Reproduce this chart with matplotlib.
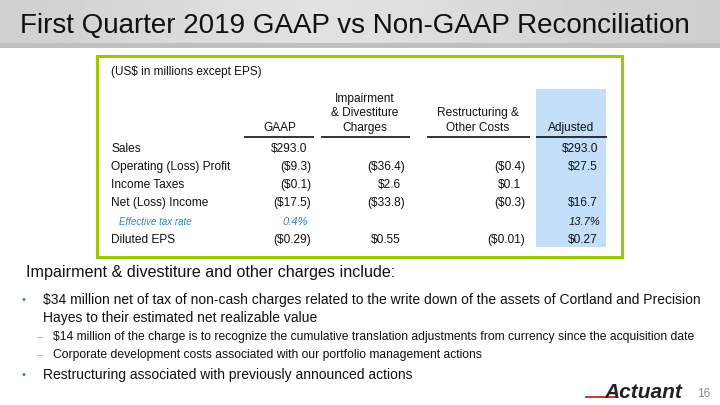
import matplotlib
matplotlib.use("Agg")

import numpy as np
import matplotlib.pyplot as plt
from matplotlib.patches import Rectangle

plt.rcParams["font.family"] = ["Liberation Sans", "DejaVu Sans"]
plt.rcParams["text.parse_math"] = False  # dollar signs are plain text here

# slide text
title = "First Quarter 2019 GAAP vs Non-GAAP Reconciliation"
units_note = "(US$ in millions except EPS)"

# table data
row_labels = ["Sales", "Operating (Loss) Profit", "Income Taxes",
              "Net (Loss) Income", "Effective tax rate", "Diluted EPS"]
col_headers = ["GAAP", "Impairment\n& Divestiture\nCharges",
               "Restructuring &\nOther Costs", "Adjusted"]
gaap = ["$293.0", "($9.3)", "($0.1)", "($17.5)", "0.4%", "($0.29)"]
impairment = ["", "($36.4)", "$2.6", "($33.8)", "", "$0.55"]
restructuring = ["", "($0.4)", "$0.1", "($0.3)", "", "($0.01)"]
adjusted = ["$293.0", "$27.5", "", "$16.7", "13.7%", "$0.27"]

notes_heading = "Impairment & divestiture and other charges include:"
notes = [
    (0, "$34 million net of tax of non-cash charges related to the write down of the assets of Cortland and Precision\nHayes to their estimated net realizable value"),
    (1, "$14 million of the charge is to recognize the cumulative translation adjustments from currency since the acquisition date"),
    (1, "Corporate development costs associated with our portfolio management actions"),
    (0, "Restructuring associated with previously announced actions"),
]
page_number = "16"

fig = plt.figure(figsize=(7.2, 4.05), dpi=100)
ax = fig.add_axes([0, 0, 1, 1])

# header band with a soft gradient
xs = np.linspace(0, 1, 400)
band = 0.80 + 0.08 * np.exp(-((xs - 0.45) / 0.35) ** 2)
band = np.tile(band, (20, 1))
ax.imshow(band, cmap="gray", vmin=0, vmax=1, extent=[0, 720, 43, 0],
          aspect="auto", zorder=0)
ax.add_patch(Rectangle((0, 43), 720, 5, color="#c0c0c0", lw=0, zorder=1))
ax.set_xlim(0, 720)
ax.set_ylim(405, 0)
ax.axis("off")
ax.text(20, 26, title, fontsize=20, color="#111111", va="center", ha="left")

# table frame and highlighted column
ax.add_patch(Rectangle((97, 56), 525, 201, fill=False, ec="#99cc00", lw=2.2, zorder=3))
ax.add_patch(Rectangle((536, 89), 70, 158, color="#c4dffa", lw=0, zorder=1))
ax.text(111, 72, units_note, fontsize=8.5, va="center", color="#111111")

col_centers = [280, 365, 478, 571]
col_spans = [(244, 314), (321, 410), (427, 530), (536, 607)]
col_right = [311, 405, 525, 602]
for hdr, cx, (x0, x1) in zip(col_headers, col_centers, col_spans):
    ax.text(cx, 134, hdr, fontsize=8.6, ha="center", va="bottom",
            linespacing=1.3, color="#111111")
    ax.plot([x0, x1], [136.5, 136.5], color="#111111", lw=1.2,
            solid_capstyle="butt")

row_y = [149, 167, 185, 203, 222, 240]
columns = [gaap, impairment, restructuring, adjusted]
for i, (lab, y) in enumerate(zip(row_labels, row_y)):
    italic = lab == "Effective tax rate"
    if italic:
        ax.text(119, y, lab, fontsize=7, style="italic", color="#2a86d6", va="center")
    else:
        ax.text(111, y, lab, fontsize=8.6, color="#111111", va="center")
    for j, col in enumerate(columns):
        val = col[i]
        if not val:
            continue
        xr = col_right[j] if val.endswith(")") else col_right[j] - 4
        if italic:
            color = "#2a86d6" if j == 0 else "#111111"
            ax.text(xr + (1 if j == 0 else 2), y, val, fontsize=8, style="italic",
                    color=color, ha="right", va="center")
        else:
            ax.text(xr, y, val, fontsize=8.6, color="#111111", ha="right", va="center")

# notes below the table
ax.text(26, 273, notes_heading, fontsize=11.6, color="#111111", va="center")
note_y = [300, 337, 355, 375]
for (level, txt), y in zip(notes, note_y):
    if level == 0:
        ax.text(21, y, "\u2022", fontsize=8, color="#3a7cc0", va="center")
        for k, line in enumerate(txt.split("\n")):
            ax.text(43, y + 18 * k, line, fontsize=10, color="#111111", va="center")
    else:
        ax.text(37, y, "\u2013", fontsize=8, color="#7aaad6", va="center")
        ax.text(53, y, txt, fontsize=8.7, color="#111111", va="center")

# logo and page number
ax.plot([586, 616], [397, 397], color="#cc2222", lw=1.3)
ax.text(604, 392, "Actuant", fontsize=15, style="italic", weight="bold",
        color="#222222", va="center", ha="left")
ax.text(697, 394, page_number, fontsize=8.5, color="#888888", va="center")

fig.savefig("out.png", dpi=100)
